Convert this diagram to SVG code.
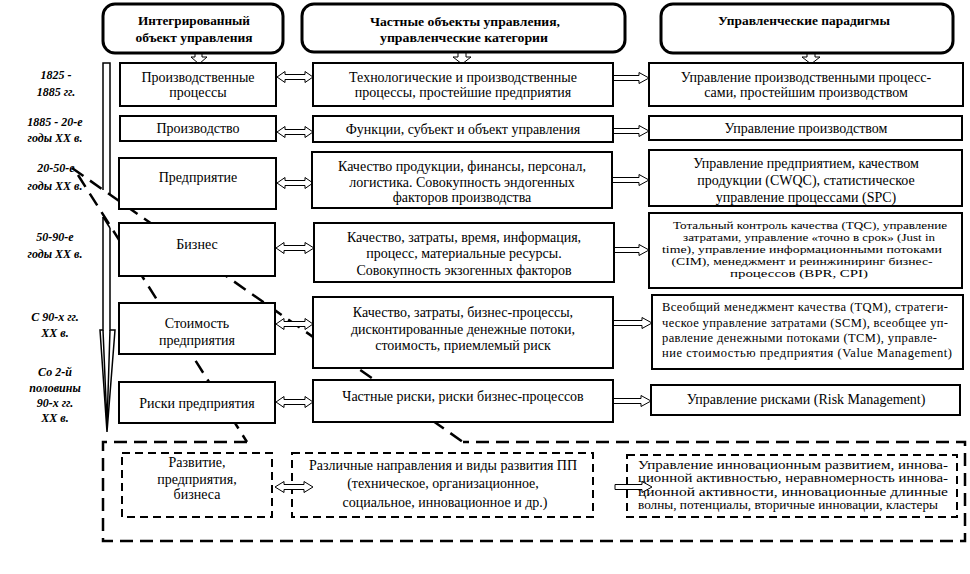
<svg xmlns="http://www.w3.org/2000/svg" width="970" height="574" viewBox="0 0 970 574" font-family="'Liberation Serif', 'Times New Roman', 'DejaVu Serif', serif">
<style>
.bg{fill:#fff}
.hdr{fill:#fff;stroke:#000;stroke-width:3}
.box{fill:#fff;stroke:#000;stroke-width:2}
.dbox{fill:#fff;stroke:#000;stroke-width:2;stroke-dasharray:8 5}
.dline{fill:none;stroke:#000;stroke-width:2.5;stroke-dasharray:14 8}
.outer{fill:none;stroke:#000;stroke-width:2.5;stroke-dasharray:13 7}
.arr{fill:#fff;stroke:#000;stroke-width:1}
.ln{fill:none;stroke:#000;stroke-width:1.5}
text{font-family:'Liberation Serif','Times New Roman','DejaVu Serif',serif;fill:#000}
.t{font-size:14px;text-anchor:middle}
.s{font-size:11.2px;text-anchor:middle}
.j{font-size:12.5px}
.b{font-size:11.5px}
.h{font-size:12px;font-weight:bold;text-anchor:middle}
.lab{font-size:12px;font-weight:bold;font-style:italic;text-anchor:middle}
</style>
<rect class="bg" x="0" y="0" width="970" height="574"/>

<g id="connectors">
  <path class="dline" d="M72,168 L463,442"/>
  <path class="dline" d="M78,175 L247,442"/>
  <path class="outer" d="M247,442 L103,442 L103,541 L965,541 L965,442 L463,442"/>
  <path class="ln" d="M103,190 L103,63 L110,63 L110,195"/>
  <path class="ln" d="M103,217 L110,228"/>
  <path class="ln" d="M103,217 L103,330 L100,330 L107,432 L115,330 L110,330 L110,228"/>
  <path class="ln" d="M103,330 L107,425 L110,330"/>
  <path class="arr" d="M195,53 L202,53 L202,57 L207,57 L199,64 L191,57 L195,57 Z"/>
  <path class="arr" d="M458,52 L466,52 L466,57 L471,57 L462,64 L453,57 L458,57 Z"/>
  <path class="arr" d="M807,53 L815,53 L815,57 L820,57 L811,64 L802,57 L807,57 Z"/>
  <path class="arr" d="M277,77 L285,71.5 L285,74.5 L305,74.5 L305,71.5 L313,77 L305,82.5 L305,79.5 L285,79.5 L285,82.5 Z"/>
  <path class="arr" d="M277,132 L285,126.5 L285,129.5 L305,129.5 L305,126.5 L313,132 L305,137.5 L305,134.5 L285,134.5 L285,137.5 Z"/>
  <path class="arr" d="M277,183 L285,177.5 L285,180.5 L305,180.5 L305,177.5 L313,183 L305,188.5 L305,185.5 L285,185.5 L285,188.5 Z"/>
  <path class="arr" d="M276,248 L284,242.5 L284,245.5 L305,245.5 L305,242.5 L314,248 L305,253.5 L305,250.5 L284,250.5 L284,253.5 Z"/>
  <path class="arr" d="M276,324 L284,318.5 L284,321.5 L305,321.5 L305,318.5 L313,324 L305,329.5 L305,326.5 L284,326.5 L284,329.5 Z"/>
  <path class="arr" d="M276,402 L284,396.5 L284,399.5 L305,399.5 L305,396.5 L313,402 L305,407.5 L305,404.5 L284,404.5 L284,407.5 Z"/>
  <path class="arr" d="M613,75.5 L639,75.5 L639,72.5 L649,78 L639,83.5 L639,80.5 L613,80.5 Z"/>
  <path class="arr" d="M613,128.5 L639,128.5 L639,125.5 L649,131 L639,136.5 L639,133.5 L613,133.5 Z"/>
  <path class="arr" d="M612,177.5 L639,177.5 L639,174.5 L649,180 L639,185.5 L639,182.5 L612,182.5 Z"/>
  <path class="arr" d="M614,247.5 L639,247.5 L639,244.5 L649,250 L639,255.5 L639,252.5 L614,252.5 Z"/>
  <path class="arr" d="M613,320.5 L642,320.5 L642,317.5 L652,323 L642,328.5 L642,325.5 L613,325.5 Z"/>
  <path class="arr" d="M613,398.5 L641,398.5 L641,395.5 L651,401 L641,406.5 L641,403.5 L613,403.5 Z"/>
</g>

<g id="labels">
  <text class="lab" x="56" y="79">1825 -</text>
  <text class="lab" x="56" y="96">1885 гг.</text>
  <text class="lab" x="55" y="126">1885 - 20-е</text>
  <text class="lab" x="55" y="142">годы XX в.</text>
  <text class="lab" x="56" y="172">20-50-е</text>
  <text class="lab" x="55" y="190">годы XX в.</text>
  <text class="lab" x="55" y="241">50-90-е</text>
  <text class="lab" x="55" y="258">годы XX в.</text>
  <text class="lab" x="55" y="321">С 90-х гг.</text>
  <text class="lab" x="55" y="337">XX в.</text>
  <text class="lab" x="55" y="376">Со 2-й</text>
  <text class="lab" x="55" y="392">половины</text>
  <text class="lab" x="55" y="407">90-х гг.</text>
  <text class="lab" x="55" y="422">XX в.</text>
</g>

<g id="header1">
  <rect class="hdr" x="103" y="4" width="180" height="49" rx="12"/>
  <text class="h" x="194" y="25" textLength="112" lengthAdjust="spacingAndGlyphs">Интегрированный</text>
  <text class="h" x="194" y="42" textLength="117" lengthAdjust="spacingAndGlyphs">объект управления</text>
</g>
<g id="header2">
  <rect class="hdr" x="302" y="4" width="323" height="48" rx="12"/>
  <text class="h" x="465" y="26" textLength="190" lengthAdjust="spacingAndGlyphs">Частные объекты управления,</text>
  <text class="h" x="464" y="42" textLength="168" lengthAdjust="spacingAndGlyphs">управленческие категории</text>
</g>
<g id="header3">
  <rect class="hdr" x="661" y="4" width="292" height="49" rx="12"/>
  <text class="h" x="804" y="25" textLength="172" lengthAdjust="spacingAndGlyphs">Управленческие парадигмы</text>
</g>

<g id="c1r1"><rect class="box" x="120" y="63" width="156" height="43"/>
  <text class="t" x="198" y="82">Производственные</text><text class="t" x="198" y="97">процессы</text></g>
<g id="c1r2"><rect class="box" x="120" y="116" width="156" height="25"/>
  <text class="t" x="198" y="133">Производство</text></g>
<g id="c1r3"><rect class="box" x="119" y="158" width="157" height="51"/>
  <text class="t" x="198" y="182">Предприятие</text></g>
<g id="c1r4"><rect class="box" x="119" y="223" width="156" height="53"/>
  <text class="t" x="197" y="249">Бизнес</text></g>
<g id="c1r5"><rect class="box" x="119" y="303" width="156" height="51"/>
  <text class="t" x="197" y="328">Стоимость</text><text class="t" x="197" y="345">предприятия</text></g>
<g id="c1r6"><rect class="box" x="119" y="382" width="156" height="41"/>
  <text class="t" x="197" y="408">Риски предприятия</text></g>

<g id="c2r1"><rect class="box" x="313" y="63" width="300" height="43"/>
  <text class="t" x="463" y="82">Технологические и производственные</text>
  <text class="t" x="463" y="97">процессы, простейшие предприятия</text></g>
<g id="c2r2"><rect class="box" x="313" y="116" width="300" height="26"/>
  <text class="t" x="463" y="134">Функции, субъект и объект управления</text></g>
<g id="c2r3"><rect class="box" x="312" y="152" width="300" height="56"/>
  <text class="t" x="462" y="171">Качество продукции, финансы, персонал,</text>
  <text class="t" x="462" y="187">логистика. Совокупность эндогенных</text>
  <text class="t" x="462" y="202">факторов производства</text></g>
<g id="c2r4"><rect class="box" x="314" y="223" width="300" height="59"/>
  <text class="t" x="464" y="242">Качество, затраты, время, информация,</text>
  <text class="t" x="464" y="258">процесс, материальные ресурсы.</text>
  <text class="t" x="464" y="275">Совокупность экзогенных факторов</text></g>
<g id="c2r5"><rect class="box" x="313" y="297" width="300" height="71"/>
  <text class="t" x="463" y="317">Качество, затраты, бизнес-процессы,</text>
  <text class="t" x="463" y="334">дисконтированные денежные потоки,</text>
  <text class="t" x="463" y="350">стоимость, приемлемый риск</text></g>
<g id="c2r6"><rect class="box" x="313" y="380" width="300" height="42"/>
  <text class="t" x="463" y="401">Частные риски, риски бизнес-процессов</text></g>

<g id="c3r1"><rect class="box" x="649" y="63" width="314" height="43"/>
  <text class="t" x="806" y="82">Управление производственными процесс-</text>
  <text class="t" x="806" y="97">сами, простейшим производством</text></g>
<g id="c3r2"><rect class="box" x="649" y="116" width="313" height="24"/>
  <text class="t" x="806" y="133">Управление производством</text></g>
<g id="c3r3"><rect class="box" x="649" y="150" width="313" height="56"/>
  <text class="t" x="806" y="168">Управление предприятием, качеством</text>
  <text class="t" x="806" y="185">продукции (CWQC), статистическое</text>
  <text class="t" x="806" y="202">управление процессами (SPC)</text></g>
<g id="c3r4"><rect class="box" x="649" y="213" width="313" height="75"/>
  <text class="s" x="810" y="229" textLength="274" lengthAdjust="spacingAndGlyphs">Тотальный контроль качества (TQC), управление</text>
  <text class="s" x="809" y="241" textLength="252" lengthAdjust="spacingAndGlyphs">затратами, управление «точно в срок» (Just in</text>
  <text class="s" x="802" y="253" textLength="280" lengthAdjust="spacingAndGlyphs">time), управление информационными потоками</text>
  <text class="s" x="802" y="265" textLength="261" lengthAdjust="spacingAndGlyphs">(CIM), менеджмент и реинжиниринг бизнес-</text>
  <text class="s" x="799" y="277" textLength="138" lengthAdjust="spacingAndGlyphs">процессов (BPR, CPI)</text></g>
<g id="c3r5"><rect class="box" x="652" y="295" width="311" height="74"/>
  <text class="j" x="662" y="311" textLength="286" lengthAdjust="spacing">Всеобщий менеджмент качества (TQM), стратеги-</text>
  <text class="j" x="662" y="327" textLength="286" lengthAdjust="spacing">ческое управление затратами (SCM), всеобщее уп-</text>
  <text class="j" x="662" y="342" textLength="275" lengthAdjust="spacing">равление денежными потоками (TCM), управле-</text>
  <text class="j" x="662" y="357" textLength="290" lengthAdjust="spacing">ние стоимостью предприятия (Value Management)</text></g>
<g id="c3r6"><rect class="box" x="651" y="385" width="309" height="30"/>
  <text class="t" x="806" y="404">Управление рисками (Risk Management)</text></g>

<g id="d1"><rect class="dbox" x="122" y="453" width="150" height="64"/>
  <text class="t" x="197" y="467">Развитие,</text>
  <text class="t" x="197" y="484">предприятия,</text>
  <text class="t" x="197" y="499">бизнеса</text></g>
<g id="d2"><rect class="dbox" x="292" y="453" width="301" height="64"/>
  <text class="t" x="443" y="470">Различные направления и виды развития ПП</text>
  <text class="t" x="443" y="488">(техническое, организационное,</text>
  <text class="t" x="445" y="507">социальное, инновационное и др.)</text></g>
<g id="d3"><rect class="dbox" x="627" y="455" width="330" height="62"/>
  <text class="b" x="638" y="469" textLength="310" lengthAdjust="spacingAndGlyphs">Управление инновационным развитием, иннова-</text>
  <text class="b" x="638" y="482" textLength="310" lengthAdjust="spacingAndGlyphs">ционной активностью, неравномерность иннова-</text>
  <text class="b" x="638" y="496" textLength="310" lengthAdjust="spacingAndGlyphs">ционной активности, инновационные длинные</text>
  <text class="b" x="638" y="509" textLength="300" lengthAdjust="spacingAndGlyphs">волны, потенциалы, вторичные инновации, кластеры</text></g>

<g id="bottom-arrows">
  <path class="arr" d="M275,487 L284,481.5 L284,484.5 L304,484.5 L304,481.5 L313,487 L304,492.5 L304,489.5 L284,489.5 L284,492.5 Z"/>
  <path class="arr" d="M615,484.5 L642,484.5 L642,481.5 L652,487 L642,492.5 L642,489.5 L615,489.5 Z"/>
</g>
</svg>
